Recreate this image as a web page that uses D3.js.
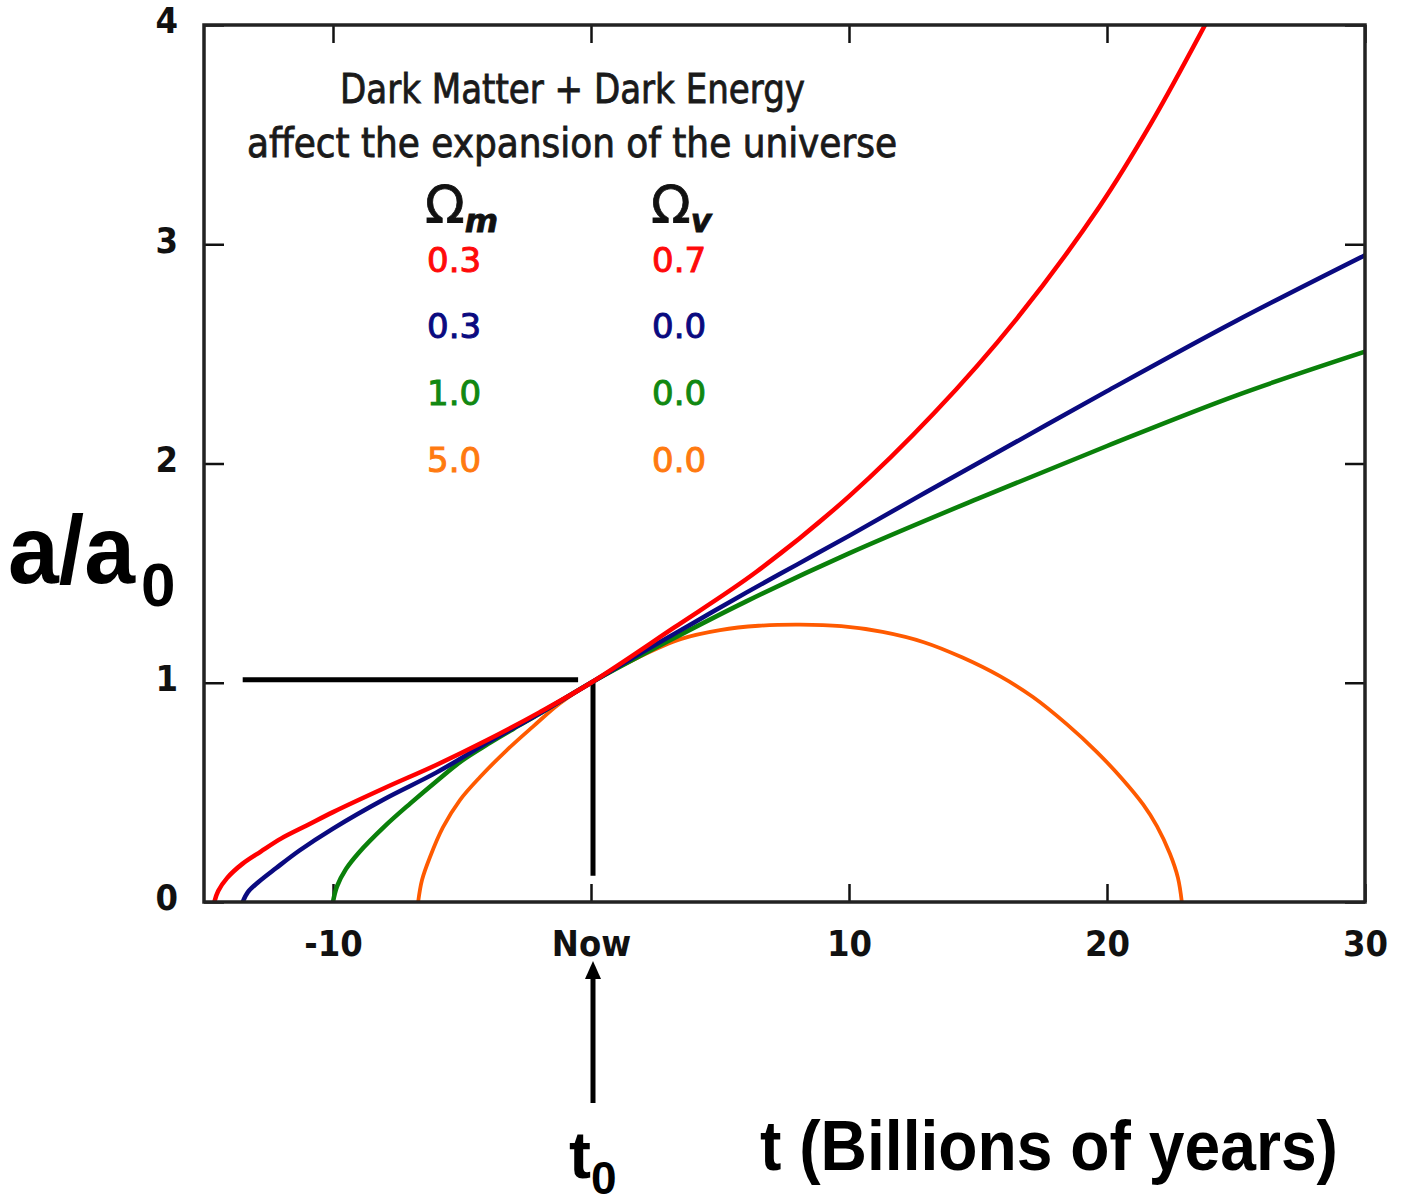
<!DOCTYPE html>
<html>
<head>
<meta charset="utf-8">
<script src="https://cdn.jsdelivr.net/npm/d3@7"></script>
<style>
    body { margin: 0; background: #fff; }
    svg { display: block; }
</style>
</head>
<body>
<div id="chart"></div>
<script>
'use strict';

// Axis ticks
const timeTicks = [-10, 0, 10, 20, 30];
const scaleTicks = [0, 1, 2, 3, 4];

// Legend table (Omega_m, Omega_v)
const omegaM = ["0.3", "0.3", "1.0", "5.0"];
const omegaV = ["0.7", "0.0", "0.0", "0.0"];

// Curves: [t (Gyr), a/a0]
const lambdaModel = [[-14.6, 0], [-14.45, 0.05], [-14.1, 0.11], [-13.5, 0.175], [-12.8, 0.23], [-12, 0.29],
    [-11, 0.35], [-10, 0.41], [-8, 0.52], [-6, 0.625], [-4, 0.74], [-2, 0.865], [0, 1], [3.2, 1.25],
    [6.4, 1.505], [10, 1.85], [13.3, 2.23], [16.5, 2.66], [19.7, 3.17], [21.7, 3.55], [23.8, 4.0]];

const openModel = [[-13.5, 0], [-13.3, 0.045], [-12.9, 0.09], [-12.2, 0.155], [-11.3, 0.235], [-10, 0.335],
    [-8, 0.47], [-6, 0.59], [-4, 0.728], [-2, 0.86], [0, 1], [2, 1.14], [4, 1.275], [6, 1.41], [8, 1.54],
    [10, 1.67], [13, 1.87], [16.5, 2.1], [20, 2.33], [25, 2.65], [30, 2.95]];

const flatModel = [[-10, 0], [-9.85, 0.07], [-9.5, 0.15], [-9, 0.225], [-8, 0.345], [-7, 0.45], [-6, 0.55],
    [-5, 0.645], [-4, 0.72], [-3, 0.79], [-2, 0.858], [-1, 0.93], [0, 1], [3, 1.19], [6, 1.37], [10, 1.59],
    [15, 1.84], [20, 2.08], [25, 2.31], [30, 2.51]];

const closedModel = [[-6.7, 0], [-6.55, 0.1], [-6.24, 0.205], [-5.74, 0.34], [-5.08, 0.465], [-4.3, 0.57],
    [-3.26, 0.693], [-2.25, 0.8], [-1.2, 0.907], [0, 1], [1.9, 1.12], [3.5, 1.2], [5, 1.24], [6.5, 1.26],
    [8.1, 1.265], [9.7, 1.258], [11.3, 1.232], [12.9, 1.185], [14.4, 1.115], [15.85, 1.03], [17.13, 0.935],
    [18.45, 0.81], [19.6, 0.685], [20.6, 0.56], [21.4, 0.445], [21.94, 0.345], [22.44, 0.22], [22.75, 0.11],
    [22.9, 0]];

// "Now" guide lines
const nowLevel = { from: -13.5, to: -0.5, a: 1 };
const nowDrop = { t: 0, top: 1, bottom: 0.12 };

const models = [lambdaModel, openModel, flatModel, closedModel];
const lineColors = ["#ff0000", "#0a0a80", "#0a800a", "#ff5a00"];
const lineWidths = [4.5, 4.5, 4.5, 3.8];
const textColors = ["#ff0a0a", "#0a0a80", "#118811", "#ff7a10"];

const W = 1401, H = 1204;
const svg = d3.select("#chart").append("svg")
    .attr("width", W)
    .attr("height", H);

const x = d3.scaleLinear().domain([-15, 30]).range([204, 1365]);
const y = d3.scaleLinear().domain([0, 4]).range([902, 25]);

const tickFont = "'DejaVu Sans Condensed', 'DejaVu Sans', sans-serif";
const fmtTime = d => d === 0 ? "Now" : String(d).replace("\u2212", "-");

svg.append("defs").append("clipPath").attr("id", "plot-clip")
    .append("rect")
    .attr("x", x(-15)).attr("y", y(4))
    .attr("width", x(30) - x(-15)).attr("height", y(0) - y(4));

// axes (inward ticks on all four sides)
function styleAxis(g) {
    g.select(".domain").remove();
    g.selectAll(".tick line").attr("stroke", "#111").attr("stroke-width", 2.5);
    g.selectAll(".tick text")
        .attr("fill", "#111")
        .attr("font-family", tickFont)
        .attr("font-stretch", "condensed")
        .attr("font-weight", "bold")
        .attr("font-size", 36);
}

svg.append("g")
    .attr("transform", `translate(0,${y(0)})`)
    .call(d3.axisBottom(x).tickValues(timeTicks).tickFormat(fmtTime)
        .tickSizeInner(-18).tickSizeOuter(0).tickPadding(28))
    .call(styleAxis);

svg.append("g")
    .attr("transform", `translate(0,${y(4)})`)
    .call(d3.axisTop(x).tickValues(timeTicks).tickFormat("")
        .tickSizeInner(-18).tickSizeOuter(0))
    .call(styleAxis);

const leftAxis = svg.append("g")
    .attr("transform", `translate(${x(-15)},0)`)
    .call(d3.axisLeft(y).tickValues(scaleTicks).tickFormat(d3.format("d"))
        .tickSizeInner(-20).tickSizeOuter(0).tickPadding(26))
    .call(styleAxis);
leftAxis.selectAll(".tick text").attr("dy", "0.22em");

svg.append("g")
    .attr("transform", `translate(${x(30)},0)`)
    .call(d3.axisRight(y).tickValues(scaleTicks).tickFormat("")
        .tickSizeInner(-20).tickSizeOuter(0))
    .call(styleAxis);

// guide lines at "now"
svg.append("line")
    .attr("x1", x(nowLevel.from)).attr("x2", x(nowLevel.to))
    .attr("y1", y(nowLevel.a) - 3).attr("y2", y(nowLevel.a) - 3)
    .attr("stroke", "#000").attr("stroke-width", 5);

svg.append("line")
    .attr("x1", x(nowDrop.t) + 2).attr("x2", x(nowDrop.t) + 2)
    .attr("y1", y(nowDrop.top)).attr("y2", y(nowDrop.bottom))
    .attr("stroke", "#000").attr("stroke-width", 5);

// curves
const line = d3.line()
    .x(d => x(d[0]))
    .y(d => y(d[1]))
    .curve(d3.curveCatmullRom.alpha(0.5));

const order = [3, 2, 1, 0];
svg.append("g")
    .attr("clip-path", "url(#plot-clip)")
    .selectAll("path")
    .data(order)
    .join("path")
    .attr("d", i => line(models[i]))
    .attr("fill", "none")
    .attr("stroke", i => lineColors[i])
    .attr("stroke-width", i => lineWidths[i])
    .attr("stroke-linejoin", "round");

// frame
svg.append("rect")
    .attr("x", x(-15)).attr("y", y(4))
    .attr("width", x(30) - x(-15)).attr("height", y(0) - y(4))
    .attr("fill", "none")
    .attr("stroke", "#222")
    .attr("stroke-width", 3.5);

// annotation text
const noteFont = "'DejaVu Sans Condensed', 'DejaVu Sans', sans-serif";
svg.append("text")
    .attr("x", 340).attr("y", 103)
    .attr("font-family", noteFont).attr("font-stretch", "condensed")
    .attr("font-size", 40).attr("fill", "#1a1a1a")
    .attr("stroke", "#1a1a1a").attr("stroke-width", 0.8)
    .attr("textLength", 465).attr("lengthAdjust", "spacingAndGlyphs")
    .text("Dark Matter + Dark Energy");

svg.append("text")
    .attr("x", 247).attr("y", 157)
    .attr("font-family", noteFont).attr("font-stretch", "condensed")
    .attr("font-size", 40).attr("fill", "#1a1a1a")
    .attr("stroke", "#1a1a1a").attr("stroke-width", 0.8)
    .attr("textLength", 650).attr("lengthAdjust", "spacingAndGlyphs")
    .text("affect the expansion of the universe");

// legend headers
const headers = [{ x: 425, sub: "m" }, { x: 651, sub: "v" }];
headers.forEach(h => {
    const t = svg.append("text")
        .attr("x", h.x).attr("y", 223)
        .attr("font-family", "'DejaVu Sans', sans-serif")
        .attr("font-size", 52).attr("fill", "#111")
        .attr("stroke", "#111").attr("stroke-width", 0.8);
    t.append("tspan").text("\u03A9");
    t.append("tspan")
        .attr("dy", 9)
        .attr("font-size", 32)
        .attr("font-style", "italic")
        .attr("font-weight", "bold")
        .text(h.sub);
});

// legend values
const rowY = [272, 338, 405, 472];
const legendFont = "'DejaVu Sans', sans-serif";
[omegaM, omegaV].forEach((col, ci) => {
    svg.append("g")
        .selectAll("text")
        .data(col)
        .join("text")
        .attr("x", ci === 0 ? 427 : 652)
        .attr("y", (d, i) => rowY[i])
        .attr("font-family", legendFont)
        .attr("font-size", 34)
        .attr("fill", (d, i) => textColors[i])
        .attr("stroke", (d, i) => textColors[i])
        .attr("stroke-width", 1)
        .text(d => d);
});

// big axis labels
const bigFont = "'Liberation Sans', Arial, sans-serif";
const yLabel = svg.append("text")
    .attr("x", 8).attr("y", 583)
    .attr("font-family", bigFont).attr("font-weight", "bold")
    .attr("fill", "#000");
yLabel.append("tspan").attr("font-size", 96).attr("textLength", 127)
    .attr("lengthAdjust", "spacingAndGlyphs").text("a/a");
yLabel.append("tspan").attr("font-size", 62).attr("dx", 6).attr("dy", 23).text("0");

svg.append("text")
    .attr("x", 760).attr("y", 1170)
    .attr("font-family", bigFont).attr("font-weight", "bold")
    .attr("font-size", 70).attr("fill", "#000")
    .attr("textLength", 578).attr("lengthAdjust", "spacingAndGlyphs")
    .text("t (Billions of years)");

const t0 = svg.append("text")
    .attr("x", x(0) - 22).attr("y", 1178)
    .attr("font-family", bigFont).attr("font-weight", "bold")
    .attr("fill", "#000");
t0.append("tspan").attr("font-size", 66).text("t");
t0.append("tspan").attr("font-size", 46).attr("dy", 16).text("0");

// arrow pointing at "Now"
const ax = x(0) + 2;
svg.append("line")
    .attr("x1", ax).attr("x2", ax)
    .attr("y1", 1103).attr("y2", 975)
    .attr("stroke", "#000").attr("stroke-width", 5);
svg.append("path")
    .attr("d", `M${ax},961 L${ax - 8},979 L${ax + 8},979 Z`)
    .attr("fill", "#000");
</script>
</body>
</html>
